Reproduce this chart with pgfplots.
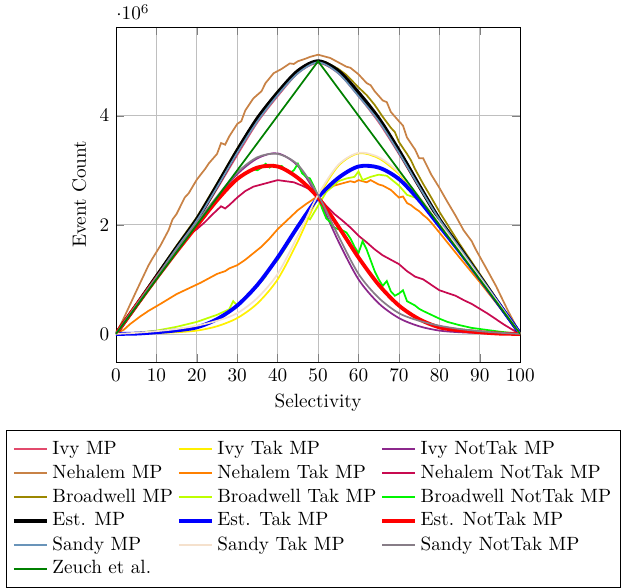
\documentclass[border=0pt]{standalone}
\usepackage{pgfplots}
\pgfplotsset{compat=1.18}
\definecolor{cIvy}{RGB}{226,74,108}
\definecolor{cIvyTak}{RGB}{255,240,0}
\definecolor{cIvyNot}{RGB}{140,40,140}
\definecolor{cNeh}{RGB}{200,130,70}
\definecolor{cNehTak}{RGB}{255,128,0}
\definecolor{cNehNot}{RGB}{200,10,80}
\definecolor{cBrw}{RGB}{155,135,0}
\definecolor{cBrwTak}{RGB}{190,255,0}
\definecolor{cBrwNot}{RGB}{0,245,0}
\definecolor{cSandy}{RGB}{105,148,185}
\definecolor{cSandyTak}{RGB}{245,225,205}
\definecolor{cSandyNot}{RGB}{135,125,135}
\definecolor{cZeuch}{RGB}{0,128,0}
\begin{document}
\begin{tikzpicture}
\begin{axis}[
  scale only axis,
  width=210.5pt, height=174.5pt,
  xmin=0, xmax=100, ymin=-0.515, ymax=5.63,
  xtick={0,10,...,100}, ytick={0,2,4},
  scaled y ticks=manual:{$\cdot 10^{6}$}{\pgfmathparse{#1}},
  every y tick scale label/.style={at={(rel axis cs:0,1)}, anchor=base west, inner sep=0pt, yshift=3.6pt},
  grid=major,
  xlabel={Selectivity}, ylabel={Event Count},
  legend columns=3,
  legend cell align=left,
  legend style={at={(0.5,-0.203)}, anchor=north, xshift=-2.4pt, inner ysep=3.5pt},
  every axis plot/.append style={line width=0.9pt},
]
% Ivy MP
\addplot[cIvy, smooth] coordinates {(0,0)(5,0.5)(10,1.02)(15,1.55)(20,2.06)(25,2.66)(30,3.28)(35,3.88)(40,4.36)(45,4.78)(50,4.97)(55,4.78)(60,4.36)(65,3.88)(70,3.3)(75,2.68)(80,2.08)(85,1.56)(90,1.04)(95,0.52)(100,0)};
\addlegendentry{Ivy MP}
% Ivy Tak MP
\addplot[cIvyTak, smooth] coordinates {(0,0)(5,0.005)(10,0.015)(15,0.03)(20,0.06)(25,0.14)(30,0.29)(35,0.56)(40,1.0)(45,1.7)(50,2.5)(55,3.08)(60,3.31)(65,3.22)(70,2.93)(75,2.5)(80,2.02)(85,1.52)(90,1.02)(95,0.51)(100,0)};
\addlegendentry{Ivy Tak MP}
% Ivy NotTak MP
\addplot[cIvyNot, smooth] coordinates {(0,0)(5,0.51)(10,1.02)(15,1.52)(20,2.02)(25,2.5)(30,2.93)(35,3.22)(40,3.31)(45,3.08)(50,2.5)(55,1.7)(60,1.0)(65,0.56)(70,0.29)(75,0.14)(80,0.06)(85,0.03)(90,0.015)(95,0.005)(100,0)};
\addlegendentry{Ivy NotTak MP}
% Nehalem MP
\addplot[cNeh] coordinates {(0,0)(2,0.3)(5,0.78)(8,1.25)(9,1.38)(11,1.62)(13,1.9)(14,2.1)(15,2.2)(17,2.5)(18,2.58)(20,2.83)(22,3.02)(23,3.13)(25,3.3)(26,3.5)(27,3.47)(28,3.62)(30,3.85)(31,3.9)(32,4.1)(34,4.32)(36,4.45)(37,4.6)(39,4.78)(41,4.86)(43,4.96)(44,4.95)(45,5.0)(47,5.05)(48,5.08)(50,5.12)(52,5.08)(53,5.06)(55,4.98)(57,4.9)(58,4.88)(60,4.76)(62,4.6)(63,4.56)(64,4.45)(66,4.28)(67,4.25)(68,4.07)(70,3.9)(71,3.82)(72,3.6)(74,3.38)(75,3.22)(76,3.22)(78,2.92)(80,2.68)(82,2.42)(84,2.17)(86,1.9)(88,1.7)(89,1.55)(92,1.15)(94,0.88)(97,0.42)(100,0)};
\addlegendentry{Nehalem MP}
% Nehalem Tak MP
\addplot[cNehTak] coordinates {(0,0)(2,0.08)(3.5,0.18)(6,0.32)(8,0.42)(11,0.55)(13,0.64)(15,0.73)(17,0.8)(19,0.87)(21,0.94)(23,1.02)(25,1.1)(27,1.15)(28,1.2)(30,1.26)(32,1.36)(34,1.48)(36,1.6)(38,1.75)(40,1.92)(42,2.06)(44,2.2)(45,2.27)(47,2.38)(49,2.48)(50,2.52)(52,2.63)(54,2.72)(56,2.76)(58,2.8)(59,2.78)(60,2.82)(62,2.78)(63,2.82)(65,2.74)(66,2.72)(68,2.64)(70,2.5)(71,2.52)(72,2.4)(73,2.36)(74,2.3)(75,2.25)(76,2.18)(77,2.12)(78,2.04)(80,1.86)(85,1.4)(90,0.95)(95,0.48)(100,0)};
\addlegendentry{Nehalem Tak MP}
% Nehalem NotTak MP
\addplot[cNehNot] coordinates {(0,0)(5,0.52)(10,1.05)(15,1.55)(16,1.62)(17,1.72)(18,1.82)(20,1.92)(22,2.05)(24,2.2)(26,2.34)(27,2.3)(28,2.36)(30,2.5)(32,2.62)(34,2.7)(36,2.74)(38,2.78)(40,2.82)(42,2.8)(44,2.78)(46,2.72)(48,2.65)(50,2.52)(52,2.35)(54,2.2)(56,2.08)(58,1.95)(60,1.8)(62,1.68)(64,1.55)(66,1.44)(68,1.36)(70,1.28)(72,1.15)(74,1.05)(76,1.0)(78,0.9)(80,0.8)(82,0.75)(84,0.7)(86,0.62)(88,0.55)(90,0.46)(92,0.37)(94,0.27)(96,0.17)(98,0.08)(100,0)};
\addlegendentry{Nehalem NotTak MP}
% Broadwell MP
\addplot[cBrw] coordinates {(0,0)(5,0.54)(10,1.08)(15,1.62)(20,2.14)(25,2.76)(30,3.4)(35,3.98)(40,4.45)(45,4.84)(48,4.96)(50,5.0)(52,4.98)(55,4.86)(57,4.75)(60,4.52)(62,4.38)(64,4.2)(66,3.98)(68,3.78)(69,3.7)(70,3.52)(72,3.3)(73,3.18)(74,3.02)(76,2.75)(78,2.5)(80,2.24)(85,1.65)(90,1.1)(95,0.55)(100,0)};
\addlegendentry{Broadwell MP}
% Broadwell Tak MP
\addplot[cBrwTak] coordinates {(0,0)(5,0.02)(10,0.06)(15,0.13)(20,0.22)(25,0.35)(28,0.45)(29,0.6)(30,0.52)(33,0.75)(35,0.88)(37,1.05)(38,1.22)(40,1.35)(43,1.7)(45,1.95)(47,2.15)(48,2.1)(50,2.35)(52,2.6)(55,2.8)(57,2.85)(59,2.88)(60,2.98)(61,2.82)(63,2.88)(65,2.92)(67,2.9)(69,2.78)(70,2.72)(72,2.55)(74,2.5)(76,2.38)(78,2.2)(80,2.0)(85,1.52)(90,1.0)(95,0.5)(100,0)};
\addlegendentry{Broadwell Tak MP}
% Broadwell NotTak MP
\addplot[cBrwNot] coordinates {(0,0)(5,0.53)(10,1.05)(15,1.55)(20,2.02)(25,2.5)(28,2.72)(30,2.86)(32,2.95)(34,3.02)(35,3.0)(36,3.05)(37,3.12)(38,3.05)(39,3.1)(40,3.06)(41,3.08)(42,3.0)(43,2.95)(44,3.0)(45,3.12)(46,2.95)(47,2.88)(48,2.85)(49,2.7)(50,2.52)(51,2.3)(52,2.12)(53,2.05)(54,1.95)(55,1.92)(56,1.9)(57,1.86)(58,1.75)(59,1.6)(60,1.48)(61,1.7)(62,1.55)(63,1.35)(64,1.15)(65,1.0)(66,0.88)(67,0.97)(68,0.78)(69,0.7)(70,0.74)(71,0.8)(72,0.6)(73,0.56)(74,0.52)(75,0.46)(76,0.42)(78,0.35)(80,0.28)(82,0.22)(85,0.16)(88,0.11)(90,0.09)(95,0.04)(100,0)};
\addlegendentry{Broadwell NotTak MP}
% Est. MP
\addplot[black, line width=2pt, smooth] coordinates {(0,0)(5,0.52)(10,1.05)(15,1.58)(20,2.1)(25,2.72)(30,3.36)(35,3.95)(40,4.42)(45,4.82)(50,5.0)(55,4.82)(60,4.42)(65,3.95)(70,3.36)(75,2.72)(80,2.1)(85,1.58)(90,1.05)(95,0.52)(100,0)};
\addlegendentry{Est. MP}
% Est. Tak MP
\addplot[blue, line width=2pt, smooth] coordinates {(0,0)(5,0.005)(10,0.03)(15,0.065)(20,0.12)(25,0.27)(30,0.52)(35,0.9)(40,1.4)(45,1.97)(50,2.5)(55,2.86)(60,3.07)(65,3.05)(70,2.84)(75,2.45)(80,1.98)(85,1.51)(90,1.02)(95,0.515)(100,0)};
\addlegendentry{Est. Tak MP}
% Est. NotTak MP
\addplot[red, line width=2pt, smooth] coordinates {(0,0)(5,0.515)(10,1.02)(15,1.51)(20,1.98)(25,2.45)(30,2.84)(35,3.05)(40,3.07)(45,2.86)(50,2.5)(55,1.97)(60,1.4)(65,0.9)(70,0.52)(75,0.27)(80,0.12)(85,0.065)(90,0.03)(95,0.005)(100,0)};
\addlegendentry{Est. NotTak MP}
% Sandy MP
\addplot[cSandy, smooth] coordinates {(0,0)(5,0.52)(10,1.04)(15,1.57)(20,2.08)(25,2.69)(30,3.32)(35,3.9)(40,4.38)(45,4.78)(50,4.98)(55,4.78)(60,4.36)(65,3.9)(70,3.32)(75,2.7)(80,2.1)(85,1.58)(90,1.06)(95,0.53)(100,0)};
\addlegendentry{Sandy MP}
% Sandy Tak MP
\addplot[cSandyTak, smooth] coordinates {(0,0)(5,0.02)(10,0.05)(15,0.09)(20,0.15)(25,0.24)(30,0.38)(35,0.66)(40,1.1)(45,1.8)(50,2.55)(55,3.1)(60,3.32)(65,3.24)(70,2.96)(75,2.52)(80,2.04)(85,1.54)(90,1.03)(95,0.52)(100,0)};
\addlegendentry{Sandy Tak MP}
% Sandy NotTak MP
\addplot[cSandyNot, smooth] coordinates {(0,0)(5,0.52)(10,1.03)(15,1.54)(20,2.04)(25,2.52)(30,2.96)(35,3.24)(40,3.3)(45,3.1)(50,2.55)(55,1.8)(60,1.1)(65,0.66)(70,0.38)(75,0.24)(80,0.15)(85,0.09)(90,0.05)(95,0.02)(100,0)};
\addlegendentry{Sandy NotTak MP}
% Zeuch et al.
\addplot[cZeuch] coordinates {(0,0)(50,5)(100,0)};
\addlegendentry{Zeuch et al.}
\end{axis}
\path (current axis.north west) ++(-60.4pt,14pt) rectangle ++(326pt,-305.7pt);
\end{tikzpicture}
\end{document}
